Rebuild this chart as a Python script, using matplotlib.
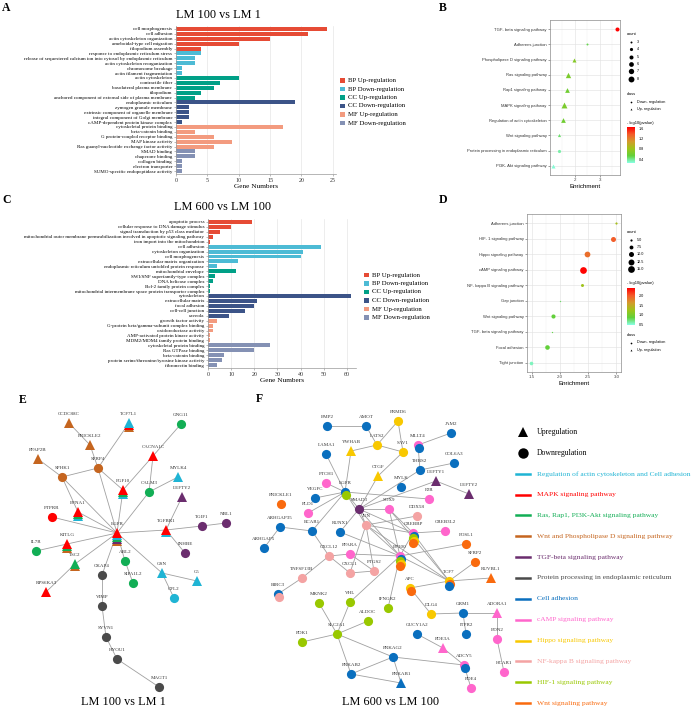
import matplotlib
matplotlib.use('Agg')
import matplotlib.pyplot as plt
import numpy as np
from matplotlib.colors import LinearSegmentedColormap, Normalize
from matplotlib.cm import ScalarMappable

# ======================= DATA =======================
go_groups = ['BP Up-regulation', 'BP Down-regulation', 'CC Up-regulation',
             'CC Down-regulation', 'MF Up-regulation', 'MF Down-regulation']

a_terms = ['cell morphogenesis', 'cell adhesion', 'actin cytoskeleton organization',
           'ameboidal-type cell migration', 'filopodium assembly',
           'response to endoplasmic reticulum stress',
           'release of sequestered calcium ion into cytosol by endoplasmic reticulum',
           'actin cytoskeleton reorganization', 'chromosome breakage', 'actin filament fragmentation',
           'actin cytoskeleton', 'contractile fiber', 'basolateral plasma membrane', 'filopodium',
           'anchored component of external side of plasma membrane',
           'endoplasmic reticulum', 'zymogen granule membrane',
           'extrinsic component of organelle membrane', 'integral component of Golgi membrane',
           'cAMP-dependent protein kinase complex',
           'cytoskeletal protein binding', 'beta-catenin binding', 'G protein-coupled receptor binding',
           'MAP kinase activity', 'Ras guanyl-nucleotide exchange factor activity',
           'SMAD binding', 'chaperone binding', 'collagen binding', 'electron transporter',
           'SUMO-specific endopeptidase activity']
a_counts = [24, 21, 15, 10, 4, 4, 3, 3, 1, 1, 10, 7, 6, 4, 3, 19, 2, 2, 2, 1,
            17, 3, 6, 9, 6, 3, 3, 1, 1, 1]
a_group = [0] * 5 + [1] * 5 + [2] * 5 + [3] * 5 + [4] * 5 + [5] * 5

c_terms = ['apoptotic process', 'cellular response to DNA damage stimulus',
           'signal transduction by p53 class mediator',
           'mitochondrial outer membrane permeabilization involved in apoptotic signaling pathway',
           'iron import into the mitochondrion',
           'cell adhesion', 'cytoskeleton organization', 'cell morphogenesis',
           'extracellular matrix organization', 'endoplasmic reticulum unfolded protein response',
           'mitochondrial envelope', 'SWI/SNF superfamily-type complex', 'DNA helicase complex',
           'Bcl-2 family protein complex',
           'mitochondrial intermembrane space protein transporter complex',
           'cytoskeleton', 'extracellular matrix', 'focal adhesion', 'cell-cell junction', 'caveola',
           'growth factor activity', 'G-protein beta/gamma-subunit complex binding',
           'oxidoreductase activity', 'AMP-activated protein kinase activity',
           'MDM2/MDM4 family protein binding',
           'cytoskeletal protein binding', 'Ras GTPase binding', 'beta-catenin binding',
           'protein serine/threonine/tyrosine kinase activity', 'fibronectin binding']
c_counts = [19, 10, 5, 2, 1, 49, 41, 40, 13, 4, 12, 3, 2, 1, 1, 62, 21, 20, 16, 9,
            4, 2, 2, 1, 1, 27, 20, 7, 6, 4]
c_group = [0] * 5 + [1] * 5 + [2] * 5 + [3] * 5 + [4] * 5 + [5] * 5

b_paths = ['TGF- beta signaling pathway', 'Adherens junction', 'Phospholipase D signaling pathway',
           'Ras signaling pathway', 'Rap1 signaling pathway', 'MAPK signaling pathway',
           'Regulation of actin cytoskeleton', 'Wnt signaling pathway',
           'Protein processing in endoplasmic reticulum', 'PI3K- Akt signaling pathway']
b_enrich = [3.68, 2.47, 1.97, 1.73, 1.67, 1.57, 1.51, 1.37, 1.36, 1.13]
b_logp = [1.65, 0.5, 0.7, 0.65, 0.6, 0.65, 0.6, 0.45, 0.35, 0.28]
b_count = [5, 3, 5, 7, 6, 8, 6, 4, 4, 5]
b_class = ['Down', 'Down', 'Up', 'Up', 'Up', 'Up', 'Up', 'Up', 'Down', 'Up']

d_paths = ['Adherens junction', 'HIF- 1 signaling pathway', 'Hippo signaling pathway',
           'cAMP signaling pathway', 'NF- kappa B signaling pathway', 'Gap junction',
           'Wnt signaling pathway', 'TGF- beta signaling pathway', 'Focal adhesion', 'Tight junction']
d_enrich = [3.0, 2.93, 2.48, 2.41, 2.39, 2.01, 1.88, 1.87, 1.78, 1.49]
d_logp = [1.3, 2.0, 1.9, 2.4, 1.25, 0.75, 0.85, 0.8, 0.85, 0.55]
d_count = [5, 10, 12, 15, 6, 3, 8, 3, 9, 7]
d_class = ['Down'] * 10

net_pathways = ['Regulation of actin cytoskeleton and Cell adhesion', 'MAPK signaling pathway',
                'Ras, Rap1, PI3K-Akt signaling pathway', 'Wnt and Phospholipase D signaling pathway',
                'TGF-beta signaling pathway', 'Protein processing in endoplasmic reticulum',
                'Cell adhesion', 'cAMP signaling pathway', 'Hippo signaling pathway',
                'NF-kappa B signaling pathway', 'HIF-1 signaling pathway', 'Wnt signaling pathway']
# pathway index shortcuts
ACT, MAPK, RAS, WPLD, TGF, ER, CAD, CAMP, HIPPO, NFKB, HIF, WNT = range(12)

e_nodes = ['CCDC88C', 'TCF7L1', 'GNG11', 'PRICKLE2', 'PPAP2B', 'SFRP4', 'SPHK1', 'CACNA1C',
           'MYLK4', 'FGF10', 'CALM3', 'LEFTY2', 'EFNA1', 'PTPRR', 'EGFR', 'TGFBR1', 'TGIF1',
           'NBL1', 'INHBE', 'KITLG', 'IL7R', 'TSC2', 'ABL2', 'SIPA1L2', 'CKAP4', 'GSN', 'C5',
           'CFL2', 'RPS6KA3', 'VIMP', 'SYVN1', 'HYOU1', 'MAGT1']
e_reg = ['Up', 'Up', 'Down', 'Up', 'Up', 'Down', 'Down', 'Up', 'Up', 'Up', 'Down', 'Up', 'Up',
         'Down', 'Up', 'Up', 'Down', 'Down', 'Down', 'Up', 'Down', 'Up', 'Down', 'Down', 'Down',
         'Up', 'Up', 'Down', 'Up', 'Down', 'Down', 'Down', 'Down']
e_path = [[WPLD], [ACT, MAPK, WPLD], [RAS], [WPLD], [WPLD], [WPLD], [WPLD], [MAPK],
          [ACT], [MAPK, RAS, ACT], [RAS], [TGF], [MAPK, RAS, ACT], [MAPK],
          [MAPK, ACT, RAS, TGF, WPLD], [MAPK, ACT], [TGF], [TGF], [TGF], [MAPK, RAS, WPLD],
          [RAS], [RAS, WPLD], [RAS], [RAS], [ER], [ACT], [ACT], [ACT], [MAPK],
          [ER], [ER], [ER], [ER]]
e_edges = [('CCDC88C', 'PRICKLE2'), ('PRICKLE2', 'SFRP4'), ('TCF7L1', 'SFRP4'),
           ('GNG11', 'CACNA1C'), ('PPAP2B', 'SPHK1'), ('SPHK1', 'SFRP4'), ('SFRP4', 'FGF10'),
           ('SFRP4', 'EGFR'), ('SPHK1', 'EGFR'), ('SPHK1', 'EFNA1'), ('CACNA1C', 'FGF10'),
           ('CACNA1C', 'CALM3'), ('MYLK4', 'CALM3'), ('CALM3', 'EGFR'), ('FGF10', 'EGFR'),
           ('LEFTY2', 'TGFBR1'), ('EFNA1', 'EGFR'), ('PTPRR', 'EGFR'), ('TGFBR1', 'EGFR'),
           ('TGFBR1', 'TGIF1'), ('TGIF1', 'NBL1'), ('TGFBR1', 'INHBE'), ('KITLG', 'EGFR'),
           ('IL7R', 'KITLG'), ('TSC2', 'EGFR'), ('ABL2', 'EGFR'), ('CKAP4', 'EGFR'),
           ('GSN', 'EGFR'), ('RPS6KA3', 'TSC2'), ('ABL2', 'SIPA1L2'), ('GSN', 'C5'),
           ('GSN', 'CFL2'), ('CKAP4', 'VIMP'), ('VIMP', 'SYVN1'), ('SYVN1', 'HYOU1'),
           ('HYOU1', 'MAGT1')]

f_nodes = ['EMP2', 'AMOT', 'FRMD6', 'JAM2', 'LATS2', 'YWHAB', 'MLLT4', 'SAV1', 'LAMA1', 'THBS2',
           'COL6A3', 'CTGF', 'LEFTY1', 'LEFTY2', 'PTCH1', 'EGFR', 'MYLK', 'VEGFC', 'PRICKLE1',
           'F2R', 'PLD1', 'SMAD3', 'SOX9', 'JUN', 'DDX58', 'ARHGAP35', 'BCAR1', 'RUNX1', 'CREBBP',
           'CREB3L2', 'ARHGAP5', 'FOSL1', 'CXCL12', 'PPARA', 'EP300', 'SFRP2', 'CXCL1', 'PTGS2',
           'TCF7', 'RUVBL1', 'APC', 'TNFSF13B', 'BIRC3', 'MKNK2', 'VHL', 'IFNGR2', 'DLG4', 'GRM1',
           'ADORA1', 'ALDOC', 'SLC2A1', 'GUCY1A2', 'ITPR2', 'EDN2', 'PDK1', 'PDE3A', 'PRKAG2',
           'ADCY5', 'HCAR1', 'PRKAB2', 'PRKAB1', 'PDE4']
f_up = {'YWHAB', 'CTGF', 'LEFTY1', 'LEFTY2', 'RUVBL1', 'ADORA1', 'PDE3A', 'PRKAB1'}
f_reg = ['Up' if n in f_up else 'Down' for n in f_nodes]
f_path = [[CAD], [CAD], [HIPPO], [CAD], [HIPPO], [HIPPO], [CAMP, CAD], [HIPPO], [CAD], [CAD],
          [CAD], [HIPPO], [TGF], [TGF], [CAMP], [CAD, HIF], [CAD], [CAD], [WNT],
          [CAMP], [CAMP], [TGF], [CAMP], [NFKB], [NFKB], [CAD], [CAD], [CAD],
          [CAMP, CAD, HIF, HIPPO, WNT], [CAMP], [CAD], [WNT], [NFKB], [CAMP],
          [CAMP, CAD, HIF, HIPPO, WNT], [WNT], [NFKB], [NFKB], [HIPPO, WNT, CAD], [WNT],
          [HIPPO, WNT], [NFKB], [CAD, NFKB], [HIF], [HIF], [HIF], [HIPPO], [CAD], [CAMP],
          [HIF], [HIF], [CAD], [CAD], [CAMP], [HIF], [CAMP], [CAD], [CAMP, CAD], [CAMP],
          [CAD], [CAD], [CAMP]]
f_edges = [('EMP2', 'AMOT'), ('AMOT', 'LATS2'), ('FRMD6', 'LATS2'), ('FRMD6', 'SAV1'),
           ('LATS2', 'SAV1'), ('YWHAB', 'LATS2'), ('JAM2', 'MLLT4'), ('MLLT4', 'THBS2'),
           ('YWHAB', 'EGFR'), ('LAMA1', 'EGFR'), ('CTGF', 'SAV1'), ('CTGF', 'SMAD3'),
           ('COL6A3', 'THBS2'), ('THBS2', 'SMAD3'), ('LEFTY1', 'LEFTY2'), ('LEFTY1', 'SMAD3'),
           ('PTCH1', 'EGFR'), ('VEGFC', 'EGFR'), ('PLD1', 'EGFR'), ('EGFR', 'SMAD3'),
           ('EGFR', 'BCAR1'), ('EGFR', 'F2R'), ('EGFR', 'JUN'), ('SMAD3', 'SOX9'),
           ('SMAD3', 'JUN'), ('SMAD3', 'CREBBP'), ('SMAD3', 'EP300'), ('SMAD3', 'RUNX1'),
           ('JUN', 'CREBBP'), ('JUN', 'EP300'), ('JUN', 'PTGS2'), ('JUN', 'CXCL1'),
           ('JUN', 'TCF7'), ('SOX9', 'CREBBP'), ('SOX9', 'EP300'), ('SOX9', 'TCF7'),
           ('DDX58', 'JUN'), ('CREB3L2', 'CREBBP'), ('CREBBP', 'EP300'), ('CREBBP', 'TCF7'),
           ('EP300', 'TCF7'), ('EP300', 'PPARA'), ('EP300', 'VHL'), ('EP300', 'IFNGR2'),
           ('EP300', 'FOSL1'), ('RUNX1', 'EP300'), ('ARHGAP35', 'BCAR1'),
           ('ARHGAP35', 'ARHGAP5'), ('BCAR1', 'CXCL12'), ('CXCL12', 'CXCL1'),
           ('CXCL12', 'PPARA'), ('CXCL1', 'PTGS2'), ('PPARA', 'PTGS2'),
           ('TNFSF13B', 'CXCL12'), ('TNFSF13B', 'BIRC3'), ('SFRP2', 'TCF7'),
           ('RUVBL1', 'TCF7'), ('APC', 'TCF7'), ('APC', 'DLG4'), ('DLG4', 'GRM1'),
           ('GRM1', 'ADORA1'), ('GRM1', 'ITPR2'), ('ADORA1', 'EDN2'), ('EDN2', 'HCAR1'),
           ('GUCY1A2', 'PDE3A'), ('PDE3A', 'ADCY5'), ('ADCY5', 'PDE4'), ('ADCY5', 'PRKAG2'),
           ('PRKAG2', 'SLC2A1'), ('PRKAG2', 'PRKAB2'), ('PRKAG2', 'PRKAB1'),
           ('PRKAB2', 'PRKAB1'), ('PRKAB2', 'SLC2A1'), ('SLC2A1', 'PDK1'),
           ('SLC2A1', 'MKNK2'), ('SLC2A1', 'VHL'), ('SLC2A1', 'ALDOC')]

# ======================= STYLE / LAYOUT =======================
W, H = 700, 710
SERIF = ['Liberation Serif', 'DejaVu Serif']
SANS = ['Liberation Sans', 'DejaVu Sans']
group_colors = ['#E64B35', '#4DBBD5', '#00A087', '#3C5488', '#F39B7F', '#8491B4']
path_colors = ['#1FB4D4', '#FF0000', '#12AE55', '#C5651F', '#6B2D6E', '#4A4A4A',
               '#0A6FBE', '#FF66CC', '#F8C800', '#F4A3A3', '#99C800', '#F96A0E']

E_POS = {'CCDC88C': (69, 423), 'TCF7L1': (129, 423), 'GNG11': (181, 424), 'PRICKLE2': (90, 445),
         'PPAP2B': (38, 459), 'SFRP4': (98, 468), 'SPHK1': (62, 477), 'CACNA1C': (153, 456),
         'MYLK4': (178, 477), 'FGF10': (123, 490), 'CALM3': (149, 492), 'LEFTY2': (182, 497),
         'EFNA1': (78, 512), 'PTPRR': (52, 517), 'EGFR': (117, 533), 'TGFBR1': (166, 530),
         'TGIF1': (202, 526), 'NBL1': (226, 523), 'INHBE': (185, 553), 'KITLG': (67, 544),
         'IL7R': (36, 551), 'TSC2': (75, 564), 'ABL2': (125, 561), 'SIPA1L2': (133, 583),
         'CKAP4': (102, 575), 'GSN': (162, 573), 'C5': (197, 581), 'CFL2': (174, 598),
         'RPS6KA3': (46, 592), 'VIMP': (102, 606), 'SYVN1': (106, 637), 'HYOU1': (117, 659),
         'MAGT1': (159, 687)}
F_POS = {'EMP2': (327, 426), 'AMOT': (366, 426), 'FRMD6': (398, 421), 'JAM2': (451, 433),
         'LATS2': (377, 445), 'YWHAB': (351, 451), 'MLLT4': (418, 445), 'SAV1': (403, 452),
         'LAMA1': (326, 454), 'THBS2': (420, 470), 'COL6A3': (454, 463), 'CTGF': (378, 476),
         'LEFTY1': (436, 481), 'LEFTY2': (469, 494), 'PTCH1': (326, 483), 'EGFR': (345, 492),
         'MYLK': (401, 487), 'VEGFC': (315, 498), 'PRICKLE1': (281, 504), 'F2R': (429, 499),
         'PLD1': (308, 513), 'SMAD3': (359, 509), 'SOX9': (389, 509), 'JUN': (366, 525),
         'DDX58': (417, 516), 'ARHGAP35': (280, 527), 'BCAR1': (312, 531), 'RUNX1': (340, 532),
         'CREBBP': (413, 533), 'CREB3L2': (445, 531), 'ARHGAP5': (264, 548),
         'FOSL1': (466, 544), 'CXCL12': (329, 556), 'PPARA': (350, 554), 'EP300': (400, 556),
         'SFRP2': (475, 562), 'CXCL1': (350, 573), 'PTGS2': (374, 571), 'TCF7': (449, 581),
         'RUVBL1': (491, 578), 'APC': (410, 588), 'TNFSF13B': (302, 578), 'BIRC3': (278, 594),
         'MKNK2': (319, 603), 'VHL': (350, 602), 'IFNGR2': (388, 608), 'DLG4': (431, 614),
         'GRM1': (463, 613), 'ADORA1': (497, 613), 'ALDOC': (368, 621), 'SLC2A1': (337, 634),
         'GUCY1A2': (417, 634), 'ITPR2': (466, 634), 'EDN2': (497, 639), 'PDK1': (302, 642),
         'PDE3A': (443, 648), 'PRKAG2': (393, 657), 'ADCY5': (464, 665), 'HCAR1': (504, 672),
         'PRKAB2': (351, 674), 'PRKAB1': (401, 683), 'PDE4': (471, 688)}


def box(l, t, r, b):
    return [l / W, 1 - b / H, (r - l) / W, (b - t) / H]


fig = plt.figure(figsize=(7, 7.1), dpi=100)
fig.patch.set_facecolor('white')
ov = fig.add_axes([0, 0, 1, 1])
ov.set_xlim(0, W)
ov.set_ylim(H, 0)
ov.axis('off')


# ---------------- bar panels ----------------
def bar_panel(rect, terms, counts, grp, xmax, xticks, title, title_xy, leg_x, leg_y, lfs):
    ax = fig.add_axes(rect)
    y = np.arange(len(terms))
    ax.barh(y, counts, height=0.8, color=[group_colors[g] for g in grp], zorder=2)
    ax.set_ylim(len(terms) - 0.4, -0.6)
    ax.set_xlim(0, xmax)
    ax.set_yticks(y)
    ax.set_yticklabels(terms, fontsize=lfs, family=SERIF)
    ax.set_xticks(xticks)
    ax.set_xticklabels([str(t) for t in xticks], fontsize=4.3, family=SERIF, color='#333333')
    ax.tick_params(axis='both', length=1.5, width=0.4, color='#888888', pad=1.2)
    ax.grid(axis='x', color='#e6e6e6', lw=0.5, zorder=0)
    for s in ['top', 'right']:
        ax.spines[s].set_visible(False)
    for s in ['left', 'bottom']:
        ax.spines[s].set_color('#999999')
        ax.spines[s].set_linewidth(0.5)
    ax.set_xlabel('Gene Numbers', fontsize=5.2, family=SERIF, labelpad=1.2)
    ov.text(title_xy[0], title_xy[1], title, fontsize=8.8, family=SERIF, ha='center', va='center')
    for i, g in enumerate(go_groups):
        yy = leg_y + i * 8.5
        ov.add_patch(plt.Rectangle((leg_x, yy - 2.3), 4.6, 4.6, color=group_colors[i], lw=0))
        ov.text(leg_x + 8.5, yy, g, fontsize=4.9, family=SERIF, va='center', ha='left')
    return ax


bar_panel(box(176, 26, 336, 174), a_terms, a_counts, a_group, 25.5, [0, 5, 10, 15, 20, 25],
          'LM 100 vs LM 1', (218, 15), 340, 80.5, 3.65)
bar_panel(box(208, 219, 356, 368), c_terms, c_counts, c_group, 64, [0, 10, 20, 30, 40, 50, 60],
          'LM 600 vs LM 100', (222, 207), 364, 275, 3.6)

# ---------------- dot panels ----------------
cmap = LinearSegmentedColormap.from_list(
    'pv', ['#88FFE6', '#62D03A', '#9EC41A', '#D49A2C', '#F45A2A', '#FF0000'])


def dot_panel(rect, paths, enrich, logp, counts, cls, xlim, xticks, vmin, vmax, sfun):
    ax = fig.add_axes(rect)
    norm = Normalize(vmin, vmax)
    for i in range(len(paths)):
        mk = '^' if cls[i] == 'Up' else 'o'
        ax.scatter(enrich[i], i, s=sfun(counts[i]), color=cmap(norm(logp[i])), marker=mk,
                   lw=0, zorder=3)
    ax.set_ylim(len(paths) - 0.4, -0.6)
    ax.set_xlim(*xlim)
    ax.set_yticks(range(len(paths)))
    ax.set_yticklabels(paths, fontsize=2.95, family=SANS, color='#333333')
    ax.set_xticks(xticks)
    ax.set_xticklabels([('%g' % t) if len(xticks) < 4 else '%.1f' % t
                        for t in xticks], fontsize=3.2, family=SANS, color='#444444')
    ax.tick_params(axis='both', length=1.5, width=0.4, color='#555555', pad=1)
    step = xticks[1] - xticks[0]
    minor = [xticks[0] - step / 2] + [t + step / 2 for t in xticks]
    for m in minor:
        ax.axvline(m, color='#f2f2f2', lw=0.35, zorder=0)
    ax.grid(True, color='#e3e3e3', lw=0.45, zorder=0)
    ax.set_axisbelow(True)
    for s in ax.spines.values():
        s.set_color('#8c8c8c')
        s.set_linewidth(0.5)
    ax.set_xlabel('Enrichment', fontsize=4.5, family=SANS, labelpad=1)
    return norm


def b_size(c):
    return 2.0 + (c - 3) / 5 * 16


def d_size(c):
    return max(0.9, 2.5 + (c - 5) / 10 * 21)


nb = dot_panel(box(550, 20, 620, 175), b_paths, b_enrich, b_logp, b_count, b_class,
               (1.0, 3.81), [2, 3], 0.25, 1.66, b_size)
nd = dot_panel(box(527, 214, 621, 372), d_paths, d_enrich, d_logp, d_count, d_class,
               (1.42, 3.08), [1.5, 2.0, 2.5, 3.0], 0.45, 2.42, d_size)


def size_legend(y0, vals, labels, sfun, dy):
    ov.text(627, y0, 'count', fontsize=2.9, family=SANS, va='center')
    for k, (v, lab) in enumerate(zip(vals, labels)):
        yy = y0 + 8 + k * dy
        ov.scatter(631, yy, s=sfun(v), color='black', lw=0)
        ov.text(637, yy, lab, fontsize=2.7, family=SANS, va='center')


def class_legend(y0):
    ov.text(627, y0, 'class', fontsize=2.9, family=SANS, va='center')
    ov.scatter(631, y0 + 7.5, s=1.5, color='black', marker='o', lw=0)
    ov.text(637, y0 + 7.5, 'Down- regulation', fontsize=2.7, family=SANS, va='center')
    ov.scatter(631, y0 + 15, s=1.8, color='black', marker='^', lw=0)
    ov.text(637, y0 + 15, 'Up- regulation', fontsize=2.7, family=SANS, va='center')


def cbar(y0, top, bot, norm, ticks):
    ov.text(627, y0, '- log10(pvalue)', fontsize=2.9, family=SANS, va='center')
    cax = fig.add_axes(box(627, top, 635, bot))
    cb = fig.colorbar(ScalarMappable(norm=norm, cmap=cmap), cax=cax, ticks=ticks)
    cb.outline.set_visible(False)
    cb.ax.tick_params(length=1.5, width=0.4, color='white', labelsize=2.7, pad=1)
    for t in cb.ax.get_yticklabels():
        t.set_family(SANS)


size_legend(34, [3, 4, 5, 6, 7, 8], ['3', '4', '5', '6', '7', '8'], b_size, 7.3)
class_legend(94)
cbar(123, 127, 163, nb, [0.4, 0.8, 1.2, 1.6])

size_legend(232, [5, 7.5, 10, 12.5, 15], ['5.0', '7.5', '10.0', '12.5', '15.0'], d_size, 7.2)
cbar(283, 288, 325, nd, [0.5, 1.0, 1.5, 2.0])
class_legend(335)


# ---------------- networks ----------------
def network(pos, nodes, reg, paths, edges, mode):
    for a, b in edges:
        (x1, y1), (x2, y2) = pos[a], pos[b]
        ov.plot([x1, x2], [y1, y2], color='#a0a0a0', lw=0.6, zorder=1, solid_capstyle='round')
    for n, r, cols in zip(nodes, reg, paths):
        x, y = pos[n]
        mk = '^' if r == 'Up' else 'o'
        ms = 7.4 if mk == '^' else 6.6
        if mode == 'under':
            for k in range(len(cols) - 1, -1, -1):
                ov.plot(x, y + k * 2.1, marker=mk, ms=ms, color=path_colors[cols[k]], mew=0,
                        zorder=2 + (len(cols) - k) * 0.01)
        else:
            for k, c in enumerate(cols):
                ov.plot(x + (0.8 if k % 2 else 0), y + k * 2.6, marker=mk, ms=ms,
                        color=path_colors[c], mew=0, zorder=2 + k * 0.01)
        ov.text(x, y - 8.8, n, fontsize=3.6, family=SERIF, ha='center', va='center',
                color='#333333', zorder=4)


network(E_POS, e_nodes, e_reg, e_path, e_edges, 'under')
network(F_POS, f_nodes, f_reg, f_path, f_edges, 'over')

ov.text(123, 702, 'LM 100 vs LM 1', fontsize=8.8, family=SERIF, ha='center', va='center')
ov.text(391, 702, 'LM 600 vs LM 100', fontsize=8.8, family=SERIF, ha='center', va='center')

# network legend
ly0, ldy = 432, 20.85
ov.plot(523, ly0, marker='^', ms=7.5, color='black', mew=0)
ov.text(537, ly0, 'Upregulation', fontsize=5.6, family=SERIF, va='center')
ov.plot(523, ly0 + ldy, marker='o', ms=7.5, color='black', mew=0)
ov.text(537, ly0 + ldy, 'Downregulation', fontsize=5.6, family=SERIF, va='center')
for i, (p, c) in enumerate(zip(net_pathways, path_colors)):
    yy = ly0 + (i + 2) * ldy
    ov.plot([516, 530], [yy, yy], color=c, lw=1.8)
    ov.text(537, yy, p, fontsize=5.4, family=SERIF, va='center', color=c)

# panel letters
for lab, (x, y) in {'A': (6, 8), 'B': (443, 8), 'C': (7, 200), 'D': (443, 200),
                    'E': (23, 400), 'F': (259, 399)}.items():
    ov.text(x, y, lab, fontsize=8.5, family=SERIF, fontweight='bold', ha='center', va='center')

fig.savefig('out.png', dpi=100, facecolor='white')
